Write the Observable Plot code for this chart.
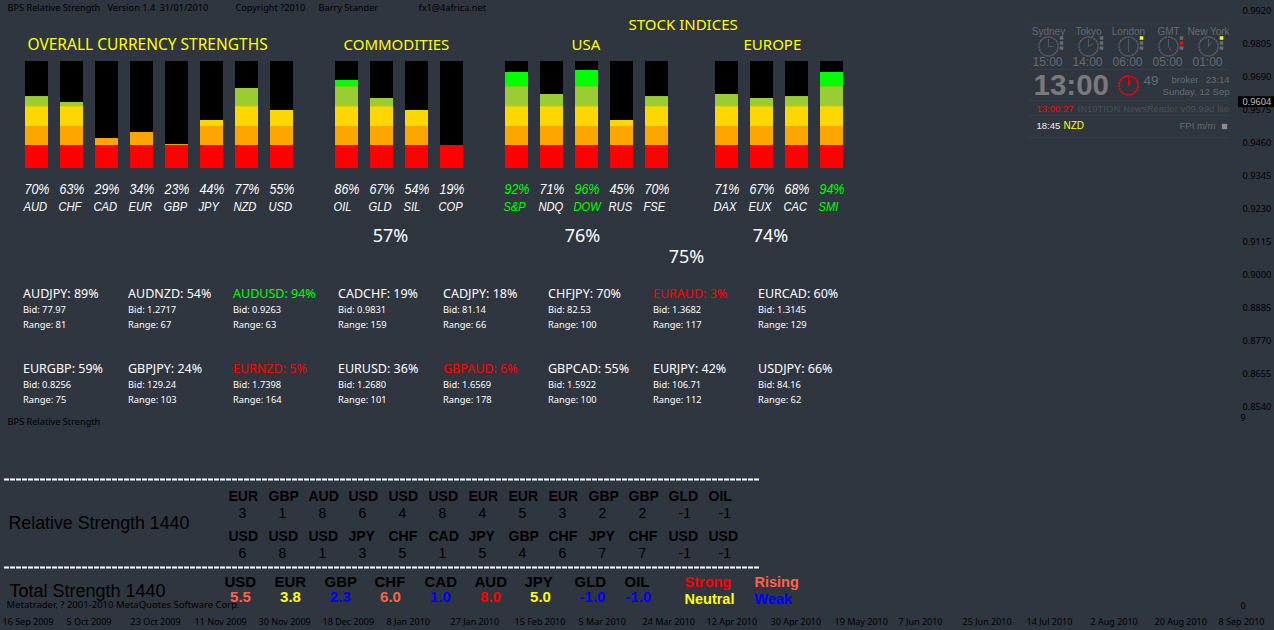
<!DOCTYPE html>
<html><head><meta charset="utf-8">
<script src="https://cdn.jsdelivr.net/npm/d3@7"></script>
<script src="https://cdn.jsdelivr.net/npm/@observablehq/plot@0.6"></script>
<style>
html,body{margin:0;padding:0;background:#2f3640;overflow:hidden}
#page{position:relative;width:1274px;height:630px;background:#2f3640}
#page svg{position:absolute;left:0;top:0}
</style></head><body><div id="page"></div>
<script>
// ---------- data ----------
const currencies = ["AUD","CHF","CAD","EUR","GBP","JPY","NZD","USD"];
const currencyPct = [70,63,29,34,23,44,77,55];
const currencyBars = [70.6,64.8,29.4,35.3,23.5,47.1,78.5,56.9];
const commodities = ["OIL","GLD","SIL","COP"];
const commodityPct = [86,67,54,19];
const commodityBars = [86.4,68.7,56.9,22.5];
const usaIdx = ["S&P","NDQ","DOW","RUS","FSE"];
const usaPct = [92,71,96,45,70];
const usaBars = [94.2,72.6,96.2,47.1,70.6];
const euroIdx = ["DAX","EUX","CAC","SMI"];
const euroPct = [71,67,68,94];
const euroBars = [72.6,68.7,70.6,94.2];
const bandStops = [0,22.5,41.2,60.8,80.4,105];
const bandColors = ["#ff0000","#ffa500","#ffd700","#9acd32","#00ff00"];

const pairNames = ["AUDJPY","AUDNZD","AUDUSD","CADCHF","CADJPY","CHFJPY","EURAUD","EURCAD","EURGBP","GBPJPY","EURNZD","EURUSD","GBPAUD","GBPCAD","EURJPY","USDJPY"];
const pairPct = [89,54,94,19,18,70,3,60,59,24,5,36,6,55,42,66];
const pairBid = ["77.97","1.2717","0.9263","0.9831","81.14","82.53","1.3682","1.3145","0.8256","129.24","1.7398","1.2680","1.6569","1.5922","106.71","84.16"];
const pairRange = [81,67,63,159,66,100,117,129,75,103,164,101,178,100,112,62];

const priceTicks = [0.9920,0.9805,0.9690,0.9575,0.9460,0.9345,0.9230,0.9115,0.9000,0.8885,0.8770,0.8655,0.8540];
const lastPrice = 0.9604;
const dateTicks = ["16 Sep 2009","5 Oct 2009","23 Oct 2009","11 Nov 2009","30 Nov 2009","18 Dec 2009","8 Jan 2010","27 Jan 2010","15 Feb 2010","5 Mar 2010","24 Mar 2010","12 Apr 2010","30 Apr 2010","19 May 2010","7 Jun 2010","25 Jun 2010","14 Jul 2010","2 Aug 2010","20 Aug 2010","8 Sep 2010"];

const relTopNames = ["EUR","GBP","AUD","USD","USD","USD","EUR","EUR","EUR","GBP","GBP","GLD","OIL"];
const relTopVals = [3,1,8,6,4,8,4,5,3,2,2,-1,-1];
const relBotNames = ["USD","USD","USD","JPY","CHF","CAD","JPY","GBP","CHF","JPY","CHF","USD","USD"];
const relBotVals = [6,8,1,3,5,1,5,4,6,7,7,-1,-1];
const totalNames = ["USD","EUR","GBP","CHF","CAD","AUD","JPY","GLD","OIL"];
const totalVals = ["5.5","3.8","2.3","6.0","1.0","8.0","5.0","-1.0","-1.0"];
const totalColors = ["#ff6347","#ffff00","#0000ff","#ff6347","#0000ff","#ff0000","#ffff00","#0000ff","#0000ff"];

const cities = ["Sydney","Tokyo","London","GMT","New York"];
const cityTimes = ["15:00","14:00","06:00","05:00","01:00"];
const cityLamps = [[],[],["#ffff00"],[null,"#ff0000"],["#ffff00"]];

// ---------- layout ----------
const W = 1274, H = 630;
const sans = "'Noto Sans', sans-serif", arial = "'Liberation Sans', Arial, sans-serif";
const ink = "#000", dim = "#666b72", clockGrey = "#595e65";
const pageScales = {
  width: W, height: H, margin: 0,
  x: {domain:[0,W], range:[0,W], axis:null}, y: {domain:[0,H], range:[0,H], axis:null},
  color: {type:"identity"},
  style: {background:"transparent", overflow:"visible"}
};
const groups = [
  {names:currencies, pct:currencyPct, bars:currencyBars, x0:25},
  {names:commodities, pct:commodityPct, bars:commodityBars, x0:335},
  {names:usaIdx, pct:usaPct, bars:usaBars, x0:505},
  {names:euroIdx, pct:euroPct, bars:euroBars, x0:715}
];
const barStep = 35, barW = 23;

// bars: y is a real percentage scale
const segs = [], backs = [];
for (const g of groups) g.names.forEach((n,i)=>{
  const x1 = g.x0 + i*barStep, x2 = x1 + barW;
  backs.push({x1,x2});
  bandColors.forEach((c,b)=>{
    const lo = bandStops[b], hi = Math.min(bandStops[b+1], g.bars[i]);
    if (hi > lo) segs.push({x1,x2,lo,hi,c});
  });
});
const barsPlot = Plot.plot({
  width:W, height:H, marginLeft:0, marginRight:0, marginTop:61, marginBottom:H-168,
  x:{domain:[0,W], range:[0,W], axis:null}, y:{domain:[0,105], axis:null},
  color:{type:"identity"}, style:{background:"transparent"},
  marks:[
    Plot.rect(backs,{x1:"x1",x2:"x2",y1:()=>0,y2:()=>105,fill:"#000"}),
    Plot.rect(segs,{x1:"x1",x2:"x2",y1:"lo",y2:"hi",fill:"c"})
  ]
});

// price axis: real price scale
const pricePlot = Plot.plot({
  width:W, height:H, marginLeft:0, marginRight:32, marginTop:11, marginBottom:H-407,
  x:{domain:[0,1242], axis:null}, y:{domain:[priceTicks[12],priceTicks[0]], axis:null},
  style:{background:"transparent", overflow:"visible", fontFamily:sans, fontSize:"9.2px"},
  marks:[
    Plot.axisY(priceTicks,{anchor:"right",tickSize:0,tickPadding:0,tickFormat:d3.format(".4f"),label:null,fill:ink,textAnchor:"start",fontSize:9.2}),
    Plot.rect([lastPrice],{x1:()=>1238,x2:()=>1274,y1:d=>d-0.0019,y2:d=>d+0.0019,fill:"#000"}),
    Plot.text([lastPrice],{x:()=>1242,y:d=>d,text:d3.format(".4f"),textAnchor:"start",fill:"#c0c0c0",fontSize:9.2})
  ]
});

// everything else: page coordinates
const T = (rows,o={}) => Plot.text(rows,{x:"x",y:"y",text:"t",fill:d=>d.c??o.c??"#fff",textAnchor:o.a??"start",lineAnchor:"middle",fontFamily:o.f??sans,fontSize:o.s??10,fontWeight:o.w??"normal",fontStyle:o.i?"italic":"normal",className:o.k});

const headings = [
  {t:"COMMODITIES",x:343,y:45},{t:"USA",x:571,y:45},{t:"EUROPE",x:743,y:45},{t:"STOCK INDICES",x:628,y:25}
];
const credits = [
  {t:"BPS Relative Strength",x:7,y:8},{t:"Version 1.4",x:107,y:8},{t:"31/01/2010",x:159,y:8},{t:"Copyright ?2010",x:235,y:8},{t:"Barry Stander",x:318,y:8},{t:"fx1@4africa.net",x:418,y:8},
  {t:"BPS Relative Strength",x:7,y:422}
];
const totalsMid = [{t:"57%",x:390,y:236},{t:"76%",x:582,y:236},{t:"74%",x:770,y:236},{t:"75%",x:686,y:257}];
const pctRows = [], nameRows = [];
for (const g of groups) g.names.forEach((n,i)=>{
  const c = g.pct[i] >= 90 ? "#00ff00" : "#fff", x = g.x0 + i*barStep;
  pctRows.push({t:g.pct[i]+"%",x:x-1,y:189,c});
  nameRows.push({t:n,x:x-2,y:207,c});
});
const pairTitle = [], pairSub = [];
pairNames.forEach((n,i)=>{
  const col = i%8, row = Math.floor(i/8), x = 22.5+col*105, y = 293+row*75;
  const v = pairPct[i];
  pairTitle.push({t:`${n}: ${v}%`,x,y,c: v>=90?"#00ff00": v<10?"#ff0000":"#fff"});
  pairSub.push({t:`Bid: ${pairBid[i]}`,x,y:y+17},{t:`Range: ${pairRange[i]}`,x,y:y+32});
});
const dateRows = dateTicks.map((t,i)=>({t,x:2+i*64,y:622}));
const relNames = [], relVals = [];
[[relTopNames,relTopVals,496],[relBotNames,relBotVals,536]].forEach(([ns,vs,y])=>{
  ns.forEach((n,i)=>{ relNames.push({t:n,x:228+i*40,y}); relVals.push({t:String(vs[i]),x:238+i*40,y:y+17}); });
});
const totName = totalNames.map((t,i)=>({t,x:224+i*50,y:582}));
const totCentre = [240,290,340,390,440,490,540,592,638];
const totVal = totalVals.map((t,i)=>({t,x:totCentre[i],y:597,c:totalColors[i]}));
const legend = [{t:"Strong",x:684,y:582,c:"#ff0000"},{t:"Rising",x:754,y:582,c:"#ff6347"},{t:"Neutral",x:684,y:599,c:"#ffff00"},{t:"Weak",x:754,y:599,c:"#0000ff"}];

// clock panel
const clockXs = cities.map((c,i)=>1048+i*40);
const cityRows = cities.map((t,i)=>({t,x:clockXs[i],y:31}));
const cityTimeRows = cityTimes.map((t,i)=>({t,x:clockXs[i]-1,y:62}));
const hands = (cx,cy,time,stroke)=>{
  const [h,m] = time.split(":").map(Number), ha = ((h%12)+m/60)/12*2*Math.PI, ma = m/60*2*Math.PI;
  return [{x1:cx,y1:cy,x2:cx+5.5*Math.sin(ha),y2:cy-5.5*Math.cos(ha),stroke},{x1:cx,y1:cy,x2:cx+7.5*Math.sin(ma),y2:cy-7.5*Math.cos(ma),stroke}];
};
const handRows = [...cityTimes.flatMap((t,i)=>hands(clockXs[i],46,t,clockGrey)),...hands(1128,85,"13:00","#ff0000")];
const lamps = [];
clockXs.forEach((x,i)=>[0,1,2].forEach(k=>lamps.push({x:x+13,y:37.5+k*5,c:cityLamps[i][k]||"#666b72"})));
const panelRules = [23.5,69,100,115,137];

const pagePlot = Plot.plot({
  ...pageScales,
  marks:[
    T(credits,{c:ink,s:9.2}),
    T([{t:"Metatrader, ? 2001-2010 MetaQuotes Software Corp.",x:6,y:604}],{c:ink,s:9.5}),
    T([{t:"OVERALL CURRENCY STRENGTHS",x:27,y:45}],{c:"#ffff00",s:15.5}),
    T(headings,{c:"#ffff00",s:15}),
    T(pctRows,{f:arial,s:14,i:true,k:"cond-pct"}),
    T(nameRows,{f:arial,s:12,i:true,k:"cond-name"}),
    T(totalsMid,{s:18,a:"middle"}),
    T(pairTitle,{s:12.5}),
    T(pairSub,{s:9.3}),
    T(dateRows,{c:ink,s:9}),
    T([{t:"9",x:1240,y:418},{t:"0",x:1240,y:606}],{c:ink,s:9}),
    // strength tables
    Plot.ruleY([479,567],{x1:()=>4,x2:()=>759,stroke:"#fff",strokeWidth:2,strokeDasharray:"5,1"}),
    T([{t:"Relative Strength 1440",x:8,y:523}],{c:ink,f:arial,s:17.8}),
    T([{t:"Total Strength 1440",x:9,y:591}],{c:ink,f:arial,s:18}),
    T(relNames,{c:ink,f:arial,s:14,w:"bold"}),
    T(relVals,{c:ink,f:arial,s:14}),
    T(totName,{c:ink,f:arial,s:15,w:"bold"}),
    T(totVal,{f:arial,s:15,w:"bold",a:"middle"}),
    T(legend,{f:arial,s:14.5,w:"bold"}),
    // clocks
    Plot.ruleY(panelRules,{x1:()=>1028,x2:()=>1229,stroke:"#373d47"}),
    T(cityRows,{c:dim,f:arial,s:10,a:"middle"}),
    T(cityTimeRows,{c:dim,f:arial,s:12,a:"middle"}),
    Plot.dot(clockXs,{x:d=>d,y:()=>46,r:9.5,stroke:clockGrey,fill:"none",strokeDasharray:"2.5,0.6"}),
    Plot.dot([1128],{x:d=>d,y:()=>85,r:9.5,stroke:"#ff0000",fill:"none",strokeDasharray:"2.5,0.6"}),
    Plot.link(handRows,{x1:"x1",y1:"y1",x2:"x2",y2:"y2",stroke:"stroke",strokeWidth:0.9}),
    Plot.dot(lamps,{x:"x",y:"y",symbol:"square",r:2,fill:"c"}),
    T([{t:"13:00",x:1033,y:85}],{c:"#7a7a7a",f:arial,s:29.5,w:"bold"}),
    T([{t:"49",x:1143,y:80}],{c:dim,f:arial,s:13.5}),
    T([{t:"broker",x:1171,y:79}],{c:dim,f:arial,s:9.5}),
    T([{t:"23:14",x:1229,y:79},{t:"Sunday, 12 Sep",x:1229,y:91}],{c:dim,f:arial,s:9.5,a:"end"}),
    T([{t:"13:00:27",x:1036,y:108,c:"#ff0000"},{t:"IN10TION NewsReader v09.99d lite",x:1077,y:108,c:"#4a5058"},{t:"18:45",x:1036,y:125,c:"#f0f0f0"},{t:"FPI m/m",x:1179,y:125,c:dim}],{f:arial,s:9.5}),
    T([{t:"NZD",x:1063,y:125,c:"#ffff00"}],{f:arial,s:10}),
    Plot.dot([1224],{x:d=>d,y:()=>126,symbol:"square",r:3,fill:"#8a8a8a"})
  ]
});

const page = document.getElementById("page");
page.append(barsPlot, pricePlot, pagePlot);
// the source's italic labels are narrower than Liberation Sans: tighten them
const squeeze = (sel,k)=>document.querySelectorAll(sel+" text").forEach(t=>{
  t.setAttribute("textLength",(t.getComputedTextLength()*k).toFixed(1));
  t.setAttribute("lengthAdjust","spacingAndGlyphs");
});
squeeze("g.cond-pct",0.89);
squeeze("g.cond-name",0.93);
</script></body></html>
